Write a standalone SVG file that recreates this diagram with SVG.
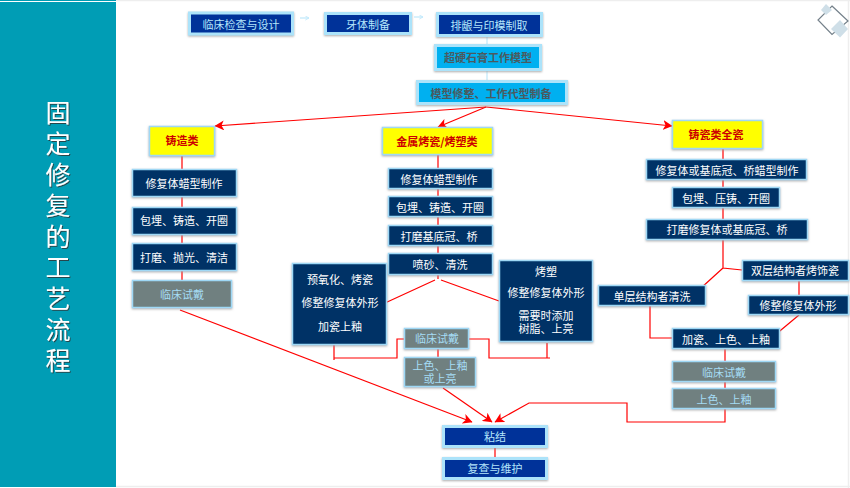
<svg xmlns="http://www.w3.org/2000/svg" width="850" height="488" viewBox="0 0 850 488">
<style>
text{font-family:"Noto Sans CJK SC","Noto Sans",sans-serif;text-anchor:middle;dominant-baseline:central}
.b{stroke-width:1.5;stroke:#9fd8f5;filter:url(#s)}
.n{fill:#003366}.d{fill:#003399;stroke:#ace3fa;stroke-width:3}.c{fill:#00b0f0;stroke:#ace3fa;stroke-width:3}.y{fill:#ffff00}.g{fill:#6f8080}
.tw{fill:#fff;font-size:11px}.tb{fill:#b5e6fb;font-size:11px}.tk{fill:#4a5a60;font-size:11px;font-weight:700}.tr{fill:#cc0000;font-size:11px;font-weight:700}.tg{fill:#a5dcf5;font-size:11px}
text.m{font-family:"Liberation Sans","Noto Sans CJK SC",sans-serif}
.r{fill:none;stroke:#ff0000;stroke-width:1.2}.l{fill:none;stroke:#bfe8fb;stroke-width:1.2}
.title{fill:#fff;font-size:25px;writing-mode:vertical-rl;text-anchor:start;letter-spacing:6px;filter:url(#ts)}
</style>
<defs>
<filter id="s" x="-10%" y="-20%" width="120%" height="150%"><feDropShadow dx="0" dy="1" stdDeviation="0.8" flood-color="#999" flood-opacity="0.8"/></filter>
<filter id="ts" x="-20%" y="-5%" width="140%" height="110%"><feDropShadow dx="1" dy="1" stdDeviation="0.3" flood-color="#333" flood-opacity="0.8"/></filter>
<marker id="a" viewBox="0 0 10 10" refX="9" refY="5" markerWidth="10" markerHeight="10" markerUnits="userSpaceOnUse" orient="auto"><path d="M0 0L9.5 5L0 10L2.5 5Z" fill="#ff0000"/></marker>
<marker id="la" viewBox="0 0 6 6" refX="5.5" refY="3" markerWidth="5" markerHeight="5" markerUnits="userSpaceOnUse" orient="auto"><path d="M1 .5L5.5 3L1 5.5" fill="none" stroke="#bfe8fb"/></marker>
</defs>
<rect width="850" height="488" fill="#fff"/>
<path d="M116 0.5H850M848.5 0V488M116 486.500H850" fill="none" stroke="#eeeeee" stroke-width="1.5"/>
<g id="side">
<rect x="0" y="0" width="116" height="487" fill="#009db5"/>
<rect x="0" y="1" width="116" height="1" fill="#fff"/>
<text class="title" x="58" y="99.500">固定修复的工艺流程</text>
</g>
<g id="icon">
<path d="M832 6L848 21L832 34.500L818 20Z" fill="none" stroke="#74808a" stroke-width="1.2"/>
<path d="M826 4L832 10L826 15L821 10Z" fill="#cfdfe8"/>
<path d="M840 20L848 29L840 37.500L831 29Z" fill="#cfdfe8"/>
</g>
<g id="connectors">
<path class="l" d="M300 18H309" marker-end="url(#la)"/>
<path class="l" d="M414 17H423" marker-end="url(#la)"/>
<path class="l" d="M487 37V44M487 71V80"/>
<path class="r" d="M486 107L215 126" marker-end="url(#a)"/>
<path class="r" d="M486 107L438 127" marker-end="url(#a)"/>
<path class="r" d="M486 107L672 126" marker-end="url(#a)"/>
<path class="r" d="M182 156V280M438 155V279M723 149V268L742 270M723 268L701 288M799 281V295M799 315L775 335"/>
<path class="r" d="M435 280L385 303M441 280L499 301"/>
<path class="r" d="M650 306V338H672M725 349V361M725 382V388"/>
<path class="r" d="M725 409V422H627V403H529L495 422" marker-end="url(#a)"/>
<path class="r" d="M334 345V360M334 358H397V339H404M469 339H489V358H547V343M550 358H545M438 349V357"/>
<path class="r" d="M443 388L492 422" marker-end="url(#a)"/>
<path class="r" d="M180 310L472 422" marker-end="url(#a)"/>
<path class="r" d="M495 448V457"/>
</g>
<g id="n1"><rect class="b d" x="189.500" y="13" width="103" height="21"/><text class="tb" x="241" y="24">临床检查与设计</text></g>
<g id="n2"><rect class="b d" x="325.500" y="13.500" width="85" height="20"/><text class="tb" x="368" y="23.500">牙体制备</text></g>
<g id="n3"><rect class="b d" x="437.500" y="13.500" width="104" height="22"/><text class="tb" x="489" y="24.500">排龈与印模制取</text></g>
<g id="n4"><rect class="b c" x="435.500" y="45.500" width="105" height="24"/><text class="tk" x="488" y="57">超硬石膏工作模型</text></g>
<g id="n5"><rect class="b c" x="417.500" y="81.500" width="149" height="22"/><text class="tk" x="491" y="92.500">模型修整、工作代型制备</text></g>
<g id="y1"><rect class="b y" x="149.500" y="126.500" width="65" height="29"/><text class="tr" x="182" y="140">铸造类</text></g>
<g id="y2"><rect class="b y" x="382.500" y="127.500" width="110" height="27"/><text class="tr" x="437" y="140.500">金属烤瓷/烤塑类</text></g>
<g id="y3"><rect class="b y" x="672.500" y="120.500" width="90" height="28"/><text class="tr" x="716" y="134">铸瓷类全瓷</text></g>
<g id="l1"><rect class="b n" x="132.500" y="169.500" width="104" height="27"/><text class="tw" x="184" y="183">修复体蜡型制作</text></g>
<g id="l2"><rect class="b n" x="132.500" y="207.500" width="104" height="27"/><text class="tw" x="184" y="220">包埋、铸造、开圈</text></g>
<g id="l3"><rect class="b n" x="132.500" y="243.500" width="104" height="27"/><text class="tw" x="184" y="257">打磨、抛光、清洁</text></g>
<g id="l4"><rect class="b g" x="132.500" y="280.500" width="99" height="27"/><text class="tg" x="182" y="294">临床试戴</text></g>
<g id="c1"><rect class="b n" x="388.500" y="168.500" width="104" height="20"/><text class="tw" x="439" y="178.500">修复体蜡型制作</text></g>
<g id="c2"><rect class="b n" x="388.500" y="196.500" width="104" height="20"/><text class="tw" x="440" y="206.500">包埋、铸造、开圈</text></g>
<g id="c3"><rect class="b n" x="388.500" y="225.500" width="104" height="20"/><text class="tw" x="439" y="235.500">打磨基底冠、桥</text></g>
<g id="c4"><rect class="b n" x="388.500" y="253.500" width="104" height="21"/><text class="tw" x="440" y="264">喷砂、清洗</text></g>
<g id="c5"><rect class="b n" x="292.500" y="263.500" width="94" height="81"/><text class="tw" x="340" y="279">预氧化、烤瓷</text><text class="tw" x="340" y="302">修整修复体外形</text><text class="tw" x="340" y="326">加瓷上釉</text></g>
<g id="c6"><rect class="b n" x="499.500" y="260.500" width="93" height="81"/><text class="tw" x="546" y="271">烤塑</text><text class="tw" x="546" y="292">修整修复体外形</text><text class="tw m" x="546" y="316">需要时添加</text><text class="tw m" x="546" y="329">树脂、上亮</text></g>
<g id="c7"><rect class="b g" x="404.500" y="328.500" width="64" height="20"/><text class="tg" x="437" y="338">临床试戴</text></g>
<g id="c8"><rect class="b g" x="404.500" y="357.500" width="71" height="29"/><text class="tg m" x="440" y="366">上色、上釉</text><text class="tg m" x="440" y="379">或上亮</text></g>
<g id="r1"><rect class="b n" x="646.500" y="159.500" width="160" height="20"/><text class="tw" x="727" y="169.500">修复体或基底冠、桥蜡型制作</text></g>
<g id="r2"><rect class="b n" x="672.500" y="187.500" width="107" height="20"/><text class="tw" x="726" y="197.500">包埋、压铸、开圈</text></g>
<g id="r3"><rect class="b n" x="646.500" y="219.500" width="161" height="20"/><text class="tw" x="727" y="229">打磨修复体或基底冠、桥</text></g>
<g id="r4"><rect class="b n" x="742.500" y="260.500" width="106" height="20"/><text class="tw" x="795" y="270">双层结构者烤饰瓷</text></g>
<g id="r5"><rect class="b n" x="598.500" y="285.500" width="107" height="20"/><text class="tw" x="652" y="295.500">单层结构者清洗</text></g>
<g id="r6"><rect class="b n" x="748.500" y="295.500" width="100" height="19"/><text class="tw" x="798" y="305">修整修复体外形</text></g>
<g id="r7"><rect class="b n" x="672.500" y="328.500" width="107" height="20"/><text class="tw" x="726" y="338.500">加瓷、上色、上釉</text></g>
<g id="r8"><rect class="b g" x="672.500" y="361.500" width="103" height="20"/><text class="tg" x="724" y="371.500">临床试戴</text></g>
<g id="r9"><rect class="b g" x="672.500" y="388.500" width="103" height="20"/><text class="tg" x="724" y="398.500">上色、上釉</text></g>
<g id="e1"><rect class="b d" x="443.500" y="426.500" width="103" height="20"/><text class="tb" x="495" y="436">粘结</text></g>
<g id="e2"><rect class="b d" x="443.500" y="458.500" width="103" height="20"/><text class="tb" x="495" y="468">复查与维护</text></g>
</svg>
